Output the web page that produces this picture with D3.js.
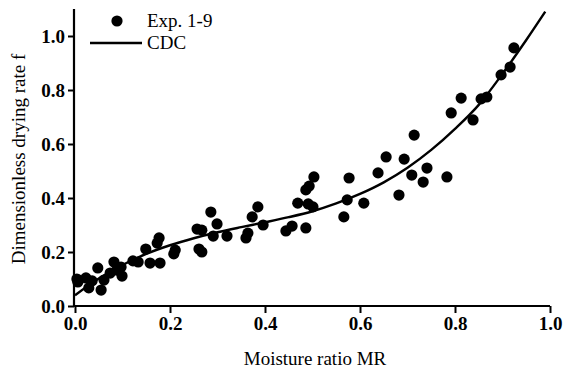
<!DOCTYPE html>
<html><head><meta charset="utf-8">
<script src="https://cdn.jsdelivr.net/npm/d3@7"></script>
<style>body{margin:0;background:#fff}svg{display:block}</style>
</head><body>
<svg id="c" width="564" height="370"></svg>
<script>
// Experimental points (MR, f)
const expMR = [0.006,0.004,0.023,0.029,0.036,0.048,0.055,0.061,0.074,0.082,0.088,0.099,0.097,0.122,0.133,0.149,0.158,0.173,0.177,0.179,0.211,0.208,
  0.257,0.267,0.261,0.267,0.286,0.299,0.291,0.320,0.360,0.364,0.373,0.385,0.396,0.444,0.457,0.486,0.469,0.486,0.493,0.491,0.501,0.503,
  0.566,0.573,0.577,0.608,0.638,0.655,0.682,0.693,0.709,0.714,0.733,0.741,0.783,0.792,0.813,0.838,0.855,0.867,0.897,0.916,0.924];
const expF = [0.089,0.100,0.104,0.067,0.093,0.141,0.059,0.096,0.122,0.163,0.133,0.111,0.144,0.167,0.163,0.211,0.159,0.233,0.252,0.159,0.207,0.193,
  0.285,0.281,0.211,0.200,0.348,0.304,0.259,0.259,0.252,0.270,0.330,0.367,0.300,0.278,0.296,0.289,0.381,0.430,0.444,0.378,0.367,0.478,
  0.330,0.393,0.474,0.381,0.493,0.552,0.411,0.544,0.485,0.633,0.459,0.511,0.478,0.715,0.770,0.689,0.767,0.774,0.856,0.885,0.956];
// CDC curve
const cdcMR = [0,0.05,0.10,0.15,0.20,0.25,0.30,0.35,0.40,0.45,0.50,0.55,0.60,0.65,0.70,0.75,0.80,0.85,0.90,0.95,0.99];
const cdcF  = [0.040,0.102,0.152,0.193,0.225,0.251,0.273,0.292,0.310,0.329,0.351,0.380,0.415,0.458,0.512,0.578,0.656,0.745,0.860,0.985,1.090];
const xTicks = [0,0.2,0.4,0.6,0.8,1.0];
const yTicks = [0,0.2,0.4,0.6,0.8,1.0];
const legendLabels = ["Exp. 1-9","CDC"];
const xTitle = "Moisture ratio MR";
const yTitle = "Dimensionless drying rate f";

const FONT = '"Liberation Serif", "Times New Roman", serif';
const svg = d3.select("#c");
const x = d3.scaleLinear().domain([0,1]).range([75,550]);
const y = d3.scaleLinear().domain([0,1.1]).range([306,9]);

const gx = svg.append("g").attr("transform","translate(0,306)")
  .call(d3.axisBottom(x).tickValues(xTicks).tickFormat(d3.format(".1f")).tickSizeInner(7).tickSizeOuter(0).tickPadding(4));
const gy = svg.append("g").attr("transform","translate(74,0)")
  .call(d3.axisLeft(y).tickValues(yTicks).tickFormat(d3.format(".1f")).tickSizeInner(6).tickSizeOuter(0).tickPadding(3));
[gx,gy].forEach(g=>{
  g.select(".domain").attr("stroke","#000").attr("stroke-width",2.2);
  g.selectAll(".tick line").attr("stroke","#000").attr("stroke-width",2);
  g.selectAll(".tick text").style("font-family",FONT).style("font-size","19px").style("font-weight","bold").attr("fill","#000");
});
gx.select(".domain").attr("d","M73.9,0H550");
gy.select(".domain").attr("d","M0,9V307");

const pts = expMR.map((m,i)=>[m,expF[i]]);
svg.append("g").selectAll("circle").data(pts).join("circle")
  .attr("cx",d=>x(d[0])).attr("cy",d=>y(d[1])).attr("r",5.6).attr("fill","#000");

const line = d3.line().x((d,i)=>x(cdcMR[i])).y(d=>y(d)).curve(d3.curveMonotoneX);
svg.append("path").attr("d",line(cdcF)).attr("fill","none").attr("stroke","#000").attr("stroke-width",2.4);

// legend
svg.append("circle").attr("cx",117).attr("cy",21).attr("r",5.6).attr("fill","#000");
svg.append("line").attr("x1",90).attr("x2",142).attr("y1",43).attr("y2",43).attr("stroke","#000").attr("stroke-width",2.4);
function txt(xp,yp,s,anchor,transform){
  const t = svg.append("text").text(s).style("font-family",FONT).style("font-size","19px").attr("fill","#000");
  if (transform) t.attr("transform",transform); else t.attr("x",xp).attr("y",yp);
  if (anchor) t.attr("text-anchor",anchor);
  return t;
}
txt(147,27,legendLabels[0]);
txt(147,49,legendLabels[1]);
txt(315,365,xTitle,"middle");
txt(0,0,yTitle,"middle","translate(25,159) rotate(-90)");
</script>
</body></html>
